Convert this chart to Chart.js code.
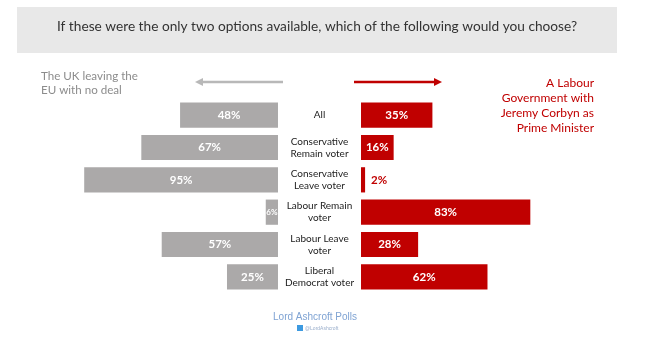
<!DOCTYPE html>
<html>
<head>
<meta charset="utf-8">
<script src="https://cdn.jsdelivr.net/npm/chart.js@4/dist/chart.umd.min.js"></script>
<style>
  html, body { margin: 0; padding: 0; background: #ffffff; }
  #wrap { width: 648px; height: 356px; position: relative; }
</style>
</head>
<body>
<div id="wrap"><canvas id="c" width="648" height="356"></canvas></div>
<script>
// ---- data ----
const categories = [
  ["All"],
  ["Conservative", "Remain voter"],
  ["Conservative", "Leave voter"],
  ["Labour Remain", "voter"],
  ["Labour Leave", "voter"],
  ["Liberal", "Democrat voter"]
];
const noDeal = [48, 67, 95, 6, 57, 25];
const corbyn = [35, 16, 2, 83, 28, 62];
const titleText = "If these were the only two options available, which of the following would you choose?";
const leftLegend = ["The UK leaving the", "EU with no deal"];
const rightLegend = ["A Labour", "Government with", "Jeremy Corbyn as", "Prime Minister"];
const sourceText = "Lord Ashcroft Polls";
const handleText = "@LordAshcroft";

// half-width of the central label gap, in axis units
const GAP = 20.35;
const GREY = "#aba9a9";
const RED = "#c00000";

const greyData = noDeal.map(v => [-GAP - v, -GAP]);
const redData = corbyn.map(v => [GAP, GAP + v]);

const decor = {
  id: "decor",
  beforeDraw(chart) {
    const ctx = chart.ctx;
    ctx.save();
    ctx.fillStyle = "#e8e8e8";
    ctx.fillRect(17, 7, 600, 46);
    ctx.restore();
  },
  afterDatasetsDraw(chart) {
    const ctx = chart.ctx;
    const xs = chart.scales.x;
    const ys = chart.scales.y;
    const cx = xs.getPixelForValue(0);
    ctx.save();

    // title
    ctx.fillStyle = "#333333";
    ctx.font = "13.7px Lato";
    ctx.textAlign = "center";
    ctx.textBaseline = "middle";
    ctx.fillText(titleText, 317, 27);

    // left legend
    ctx.fillStyle = "#8c8c8c";
    ctx.font = "11.6px Lato";
    ctx.textAlign = "left";
    leftLegend.forEach((t, i) => ctx.fillText(t, 41, 76 + i * 14));

    // right legend
    ctx.fillStyle = RED;
    ctx.font = "12px Lato";
    ctx.textAlign = "right";
    rightLegend.forEach((t, i) => ctx.fillText(t, 594, 83 + i * 15));

    // arrows
    function arrow(x1, x2, y, col) {
      ctx.strokeStyle = col;
      ctx.fillStyle = col;
      ctx.lineWidth = 2.5;
      const dir = Math.sign(x2 - x1);
      ctx.beginPath();
      ctx.moveTo(x1, y);
      ctx.lineTo(x2 - dir * 6, y);
      ctx.stroke();
      ctx.beginPath();
      ctx.moveTo(x2, y);
      ctx.lineTo(x2 - dir * 8, y - 4);
      ctx.lineTo(x2 - dir * 8, y + 4);
      ctx.closePath();
      ctx.fill();
    }
    arrow(283, 195, 82, "#b8b8b8");
    arrow(354, 442, 82, RED);

    // category labels
    ctx.fillStyle = "#222222";
    ctx.font = "10px Lato";
    ctx.textAlign = "center";
    categories.forEach((lines, i) => {
      const y = ys.getPixelForValue(i);
      const n = lines.length;
      lines.forEach((t, j) => {
        ctx.fillText(t, cx, y + (j - (n - 1) / 2) * 12);
      });
    });

    // value labels
    function fitFont(text, w) {
      let size = 11.5;
      ctx.font = "bold " + size + "px Lato";
      while (ctx.measureText(text).width > w - 1 && size > 6) {
        size -= 0.5;
        ctx.font = "bold " + size + "px Lato";
      }
    }
    const mg = chart.getDatasetMeta(0);
    const mr = chart.getDatasetMeta(1);
    mg.data.forEach((el, i) => {
      const t = noDeal[i] + "%";
      fitFont(t, Math.abs(el.x - el.base));
      ctx.fillStyle = "#ffffff";
      ctx.textAlign = "center";
      ctx.fillText(t, (el.x + el.base) / 2, el.y);
    });
    mr.data.forEach((el, i) => {
      const t = corbyn[i] + "%";
      const w = Math.abs(el.x - el.base);
      ctx.font = "bold 11.5px Lato";
      if (w < 10) {
        ctx.fillStyle = RED;
        ctx.textAlign = "left";
        ctx.fillText(t, el.x + 6, el.y);
      } else {
        fitFont(t, w);
        ctx.fillStyle = "#ffffff";
        ctx.textAlign = "center";
        ctx.fillText(t, (el.x + el.base) / 2, el.y);
      }
    });

    // footer
    ctx.fillStyle = "#7fa3d3";
    ctx.font = "10px 'Liberation Sans'";
    ctx.textAlign = "center";
    ctx.fillText(sourceText, 315, 317);
    ctx.fillStyle = "#3d9ae0";
    ctx.fillRect(297, 325, 6, 6);
    ctx.fillStyle = "#9aaecb";
    ctx.font = "5px 'Liberation Sans'";
    ctx.textAlign = "left";
    ctx.fillText(handleText, 305, 328.5);

    ctx.restore();
  }
};

new Chart(document.getElementById("c"), {
  type: "bar",
  data: {
    labels: categories,
    datasets: [
      { label: leftLegend.join(" "), data: greyData, backgroundColor: GREY, grouped: false },
      { label: rightLegend.join(" "), data: redData, backgroundColor: RED, grouped: false }
    ]
  },
  options: {
    indexAxis: "y",
    responsive: false,
    animation: false,
    events: [],
    barPercentage: 0.78,
    categoryPercentage: 1,
    layout: { padding: { left: 74, right: 83, top: 99, bottom: 63 } },
    scales: {
      x: { type: "linear", min: -(100 + GAP), max: 100 + GAP, display: false },
      y: { type: "category", display: false, offset: true }
    },
    plugins: { legend: { display: false }, title: { display: false }, tooltip: { enabled: false } }
  },
  plugins: [decor]
});
</script>
</body>
</html>
